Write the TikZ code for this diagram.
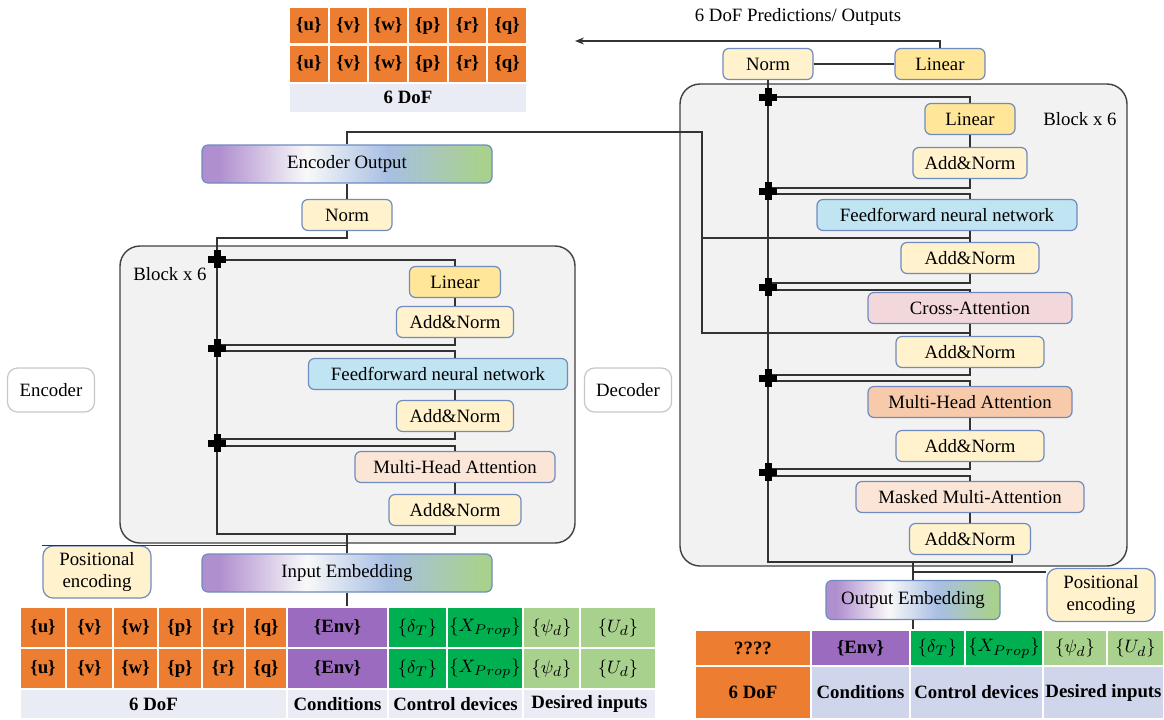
\documentclass[tikz,border=0pt]{standalone}
\usepackage{fontspec}
\setmainfont{Liberation Serif}
\usetikzlibrary{arrows.meta}
\definecolor{dof}{HTML}{ED7D31}
\definecolor{envc}{HTML}{9B6BBF}
\definecolor{ctrl}{HTML}{00B050}
\definecolor{desi}{HTML}{A9D18E}
\definecolor{labA}{HTML}{E9EBF5}
\definecolor{labB}{HTML}{CFD5EA}
\definecolor{normc}{HTML}{FFF2CC}
\definecolor{linc}{HTML}{FFE699}
\definecolor{ffnc}{HTML}{C0E4F2}
\definecolor{mhaA}{HTML}{FBE5D6}
\definecolor{mhaB}{HTML}{F7CAAC}
\definecolor{crossc}{HTML}{F2D7DB}
\definecolor{boxline}{HTML}{6F8BC0}
\definecolor{blockc}{HTML}{F2F2F2}
\definecolor{embpurple}{HTML}{B08FCF}
\definecolor{embblue}{HTML}{A8BFE3}
\definecolor{embgreen}{HTML}{A9D18E}
\pgfdeclarehorizontalshading{embshade}{100bp}{color(0bp)=(embpurple); color(28bp)=(embpurple); color(43bp)=(white!95!gray); color(57bp)=(embblue); color(73bp)=(embgreen); color(100bp)=(embgreen)}
\newcommand{\lbl}{\fontsize{9.4}{11}\selectfont}

\begin{document}
\begin{tikzpicture}[x=0.5pt,y=-0.5pt,
            box/.style={draw=boxline,line width=0.6pt,rounded corners=3pt,inner sep=0pt,font=\lbl,minimum height=15.5pt},
            emb/.style={box,shade,shading=embshade,minimum height=19pt},
            side/.style={draw=black!22,line width=0.6pt,rounded corners=5pt,fill=white,font=\lbl,minimum width=43.5pt,minimum height=22pt},
            block/.style={draw=black!75,line width=0.7pt,fill=blockc,rounded corners=10pt},
            cell/.style={draw=white,line width=1pt,inner sep=0pt,font=\lbl\bfseries},
            wire/.style={draw=black!80,line width=0.65pt},
            plusmark/.pic={\draw[line width=3.5pt] (-9,0) -- (9,0) (0,-9) -- (0,9);}]
            \useasboundingbox (0,0) rectangle (1164,719);
            \draw[block] (120,246) rectangle (575,543);
            \draw[block] (680,84) rectangle (1127,566);
            % encoder
            \node[emb,minimum width=145pt] (encout) at (347,164) {Encoder Output};
            \node[box,fill=normc,minimum width=45pt] (encnorm) at (347,215) {Norm};
            \node[font=\lbl] (encblk) at (170,274) {Block x 6};
            \node[box,fill=linc,minimum width=45.5pt] (enclin) at (455,282) {Linear};
            \node[box,fill=normc,minimum width=58.5pt] (encan1) at (455,322) {Add\&Norm};
            \node[box,fill=ffnc,minimum width=129.5pt] (encffn) at (438,374) {Feedforward neural network};
            \node[box,fill=normc,minimum width=58.5pt] (encan2) at (455,416) {Add\&Norm};
            \node[box,fill=mhaA,minimum width=100pt] (encmha) at (455,467) {Multi-Head Attention};
            \node[box,fill=normc,minimum width=66pt] (encan3) at (455,510) {Add\&Norm};
            \node[emb,minimum width=145pt] (inpemb) at (347,573) {Input Embedding};
            \node[box,fill=normc,rounded corners=5pt,minimum width=54pt,minimum height=26pt,align=center] (encpos) at (97,572) {Positional\\encoding};
            \node[side] (enclabel) at (51,390) {Encoder};
            % decoder
            \node[font=\lbl] (predtitle) at (798,17) {6 DoF Predictions/ Outputs};
            \node[box,fill=normc,minimum width=45pt] (decnorm) at (768,64) {Norm};
            \node[box,fill=linc,minimum width=45pt] (declinout) at (940,64) {Linear};
            \node[font=\lbl] (decblk) at (1080,119) {Block x 6};
            \node[box,fill=linc,minimum width=45pt] (declin) at (970,119) {Linear};
            \node[box,fill=normc,minimum width=57pt] (decan1) at (970,163) {Add\&Norm};
            \node[box,fill=ffnc,minimum width=130pt] (decffn) at (947,215) {Feedforward neural network};
            \node[box,fill=normc,minimum width=69pt] (decan2) at (970,258) {Add\&Norm};
            \node[box,fill=crossc,minimum width=102pt] (deccross) at (970,308) {Cross-Attention};
            \node[box,fill=normc,minimum width=74pt] (decan3) at (970,352) {Add\&Norm};
            \node[box,fill=mhaB,minimum width=102pt] (decmha) at (970,402) {Multi-Head Attention};
            \node[box,fill=normc,minimum width=74pt] (decan4) at (970,446) {Add\&Norm};
            \node[box,fill=mhaA,minimum width=114pt] (decmask) at (970,497) {Masked Multi-Attention};
            \node[box,fill=normc,minimum width=60.5pt] (decan5) at (970,539) {Add\&Norm};
            \node[emb,minimum width=87pt,minimum height=19.5pt] (outemb) at (913,600) {Output Embedding};
            \node[box,fill=normc,rounded corners=5pt,minimum width=54pt,minimum height=26.5pt,align=center] (decpos) at (1101,595) {Positional\\encoding};
            \node[side] (declabel) at (628,390) {Decoder};
            % tables
            \foreach \t [count=\i from 0] in {u,v,w,p,r,q}{
                \node[cell,fill=dof,minimum width=19.83pt,minimum height=18.5pt] (ta\i) at ({308.8+39.67*\i},25.5) {\{\t\}};
                \node[cell,fill=dof,minimum width=19.83pt,minimum height=19pt] (tb\i) at ({308.8+39.67*\i},63.5) {\{\t\}};
            }
            \node[cell,fill=labA,minimum width=119pt,minimum height=15pt] (tlab) at (408,97.5) {6 DoF};
            \foreach \xa/\xb/\c/\t [count=\i] in {20/66/dof/{\{u\}},66/113/dof/{\{v\}},113/158/dof/{\{w\}},158/202/dof/{\{p\}},202/245/dof/{\{r\}},245/287/dof/{\{q\}},287/388/envc/{\{Env\}},388/447/ctrl/{$\{\delta_T\}$},447/523/ctrl/{$\{X_{Prop}\}$},523/580/desi/{$\{\psi_d\}$},580/656/desi/{$\{U_d\}$}}{
                \node[cell,fill=\c,minimum width={(\xb-\xa)*0.5pt},minimum height=20.5pt] (ea\i) at ({(\xa+\xb)/2},627.5) {\t};
                \node[cell,fill=\c,minimum width={(\xb-\xa)*0.5pt},minimum height=20.5pt] (eb\i) at ({(\xa+\xb)/2},668.5) {\t};
            }
            \foreach \xa/\xb/\t [count=\i] in {20/287/6 DoF,287/388/Conditions,388/523/Control devices,523/656/Desired inputs}{
                \node[cell,fill=labA,minimum width={(\xb-\xa)*0.5pt},minimum height=15pt] (el\i) at ({(\xa+\xb)/2},704) {\t};
            }
            \foreach \xa/\xb/\c/\t [count=\i] in {695/811/dof/????,811/910/envc/{\{Env\}},910/965/ctrl/{$\{\delta_T\}$},965/1043/ctrl/{$\{X_{Prop}\}$},1043/1107/desi/{$\{\psi_d\}$},1107/1164/desi/{$\{U_d\}$}}{
                \node[cell,fill=\c,minimum width={(\xb-\xa)*0.5pt},minimum height=18pt] (da\i) at ({(\xa+\xb)/2},648) {\t};
            }
            \foreach \xa/\xb/\c/\t [count=\i] in {695/811/dof/6 DoF,811/910/labB/Conditions,910/1043/labB/Control devices,1043/1164/labB/Desired inputs}{
                \node[cell,fill=\c,minimum width={(\xb-\xa)*0.5pt},minimum height=26.5pt] (dl\i) at ({(\xa+\xb)/2},692.5) {\t};
            }
            % encoder wires
            \coordinate (encres) at (217,238);
            \coordinate (encbot) at (217,534);
            \coordinate (ep1) at (217,260);
            \coordinate (ep2a) at (217,345);
            \coordinate (ep2b) at (217,351);
            \coordinate (ep3a) at (217,439);
            \coordinate (ep3b) at (217,446);
            \draw[wire] (encout.south) -- (encnorm.north);
            \draw[wire] (encnorm.south) |- (encres) -- (encbot) -| (encan3.south);
            \draw[wire] (ep1) -| (enclin.north);
            \draw[wire] (enclin.south) -- (encan1.north);
            \draw[wire] (ep2a) -| (encan1.south);
            \draw[wire] (ep2b) -| (encan1.south |- encffn.north);
            \draw[wire] (encan2.north |- encffn.south) -- (encan2.north);
            \draw[wire] (ep3a) -| (encan2.south);
            \draw[wire] (ep3b) -| (encmha.north);
            \draw[wire] (encmha.south) -- (encan3.north);
            \draw[wire] (inpemb.north) -- (inpemb.north |- encbot);
            \draw[wire] (encpos.north west) -- (encpos.north west -| inpemb.north);
            \draw[wire] (inpemb.south) -- (inpemb.south |- ea7.north);
            % decoder wires
            \coordinate (decbot) at (768,562);
            \coordinate (dp1) at (768,97);
            \coordinate (dp2a) at (768,188);
            \coordinate (dp2b) at (768,194);
            \coordinate (dp3a) at (768,283);
            \coordinate (dp3b) at (768,290);
            \coordinate (dp4a) at (768,375);
            \coordinate (dp4b) at (768,381);
            \coordinate (dp5a) at (768,469);
            \coordinate (dp5b) at (768,476);
            \coordinate (outtip) at (575,41);
            \draw[wire,-{Stealth[length=4.5pt,width=3.5pt]}] (declinout.north) |- (outtip);
            \draw[wire] (decnorm.east) -- (declinout.west);
            \draw[wire] (decnorm.south) -- (decbot) -| ([xshift=21pt]decan5.south);
            \draw[wire] (dp1) -| (declin.north);
            \draw[wire] (declin.south) -- (decan1.north);
            \draw[wire] (dp2a) -| (decan1.south);
            \draw[wire] (dp2b) -| (decan1.south |- decffn.north);
            \draw[wire] (decan2.north |- decffn.south) -- (decan2.north);
            \draw[wire] (dp3a) -| (decan2.south);
            \draw[wire] (dp3b) -| (deccross.north);
            \draw[wire] (deccross.south) -- (decan3.north);
            \draw[wire] (dp4a) -| (decan3.south);
            \draw[wire] (dp4b) -| (decmha.north);
            \draw[wire] (decmha.south) -- (decan4.north);
            \draw[wire] (dp5a) -| (decan4.south);
            \draw[wire] (dp5b) -| (decmask.north);
            \draw[wire] (decmask.south) -- (decan5.north);
            \draw[wire] (outemb.north) -- (outemb.north |- decbot);
            \draw[wire] ([yshift=-2pt]decpos.north west) -- ([yshift=-2pt]decpos.north west -| outemb.north);
            \draw[wire] (outemb.south) -- (outemb.south |- da3.north);
            % encoder to cross-attention
            \coordinate (xtop) at (702,132);
            \coordinate (xa) at (702,238);
            \coordinate (xb) at (702,333);
            \draw[wire] (encout.north) |- (xtop) -- (xb) -- (xb -| decan3.north);
            \draw[wire] (xa) -- (xa -| decan2.north);
            % residual adds
            \foreach \y in {259,348,443}{
                \pic at (217,\y) {plusmark};
            }
            \foreach \y in {97,191,287,378,472}{
                \pic at (768,\y) {plusmark};
            }
        \end{tikzpicture}
\end{document}
